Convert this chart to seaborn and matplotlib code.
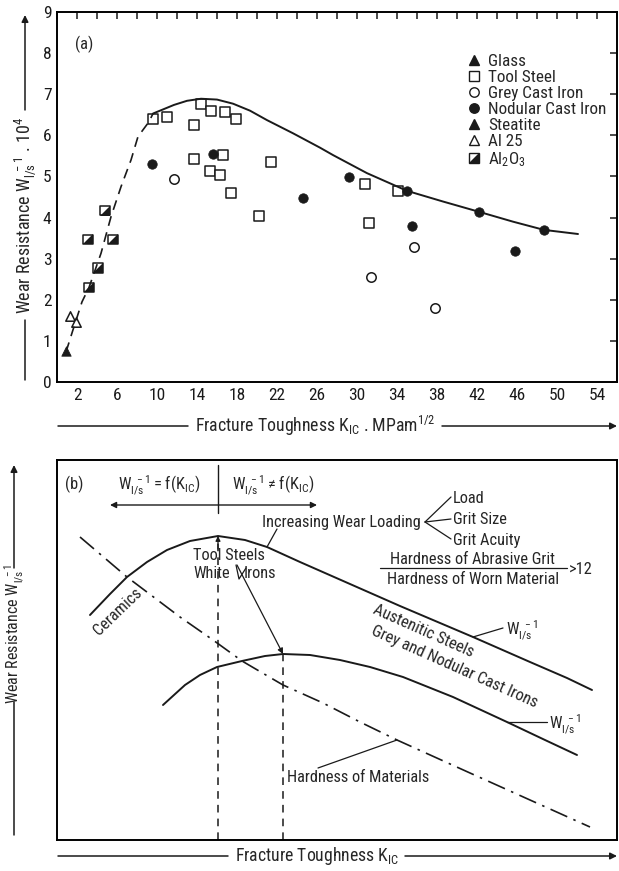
import numpy as np
import pandas as pd
import matplotlib
matplotlib.use('Agg')
import matplotlib.pyplot as plt
import seaborn as sns
from matplotlib.lines import Line2D
from matplotlib.legend_handler import HandlerTuple

# ---- (a) measured points: K_IC [MPa m^1/2] vs wear resistance [x 10^4]
glass_k = [0.9]
glass_w = [0.75]
al25_k = [1.3, 1.9]
al25_w = [1.6, 1.47]
al2o3_k = [3.2, 4.1, 3.1, 5.6, 4.8]
al2o3_w = [2.3, 2.77, 3.47, 3.47, 4.17]
tool_k = [9.6, 11.0, 13.7, 14.4, 15.4, 16.8, 17.9, 13.7, 15.3, 16.6, 16.3, 17.4,
          20.2, 21.4, 30.8, 34.1, 31.2]
tool_w = [6.4, 6.45, 6.25, 6.77, 6.58, 6.56, 6.4, 5.43, 5.14, 5.52, 5.04, 4.6,
          4.04, 5.36, 4.82, 4.65, 3.87]
nod_k = [9.5, 15.6, 24.6, 29.2, 35.0, 35.5, 42.2, 45.8, 48.7]
nod_w = [5.3, 5.55, 4.47, 4.99, 4.65, 3.8, 4.14, 3.19, 3.70]
grey_k = [11.7, 35.7, 31.4, 37.8]
grey_w = [4.94, 3.29, 2.56, 1.80]

# trend lines of (a)
dash_k = [0.9, 1.6, 2.5, 3.2, 4.4, 5.4, 6.4, 7.4, 8.1, 9.2, 9.6]
dash_w = [0.73, 1.27, 1.95, 2.3, 3.13, 4.02, 4.75, 5.4, 5.97, 6.33, 6.53]
trend_k = [9.6, 11.7, 13.0, 14.4, 16.0, 17.6, 19.3, 21.0, 23.6, 26.3, 27.6, 31.0,
           35.0, 38.6, 42.2, 45.6, 48.7, 52.1]
trend_w = [6.53, 6.74, 6.84, 6.89, 6.87, 6.77, 6.60, 6.37, 6.05, 5.70, 5.52, 5.08,
           4.65, 4.39, 4.14, 3.90, 3.70, 3.60]

x_ticks = list(range(0, 57, 2))
x_ticklabels = [str(t) if (t - 2) % 4 == 0 else '' for t in x_ticks]
y_ticks = list(range(0, 10))

# ---- (b) schematic curves (arbitrary units)
upper_k = [33, 53, 70, 90, 110, 133, 161, 188, 210, 243, 293, 343, 416, 473, 510, 535]
upper_w = [225, 246, 263, 278, 290, 299, 304, 300, 293, 278, 256, 234, 203, 178, 162, 150]
lower_k = [106, 128, 143, 160, 185, 208, 226, 253, 283, 313, 346, 396, 450, 488, 520]
lower_w = [135, 155, 165, 173, 179, 184, 186, 185, 180, 173, 163, 143, 118, 100, 85]
hard_k = [23, 70, 123, 156, 185, 226, 266, 303, 340, 413, 473, 533]
hard_w = [303, 263, 223, 200, 179, 155, 137, 118, 100, 67, 40, 13]
peak1_k, peak1_w = 161, 304
peak2_k, peak2_w = 226, 186

sns.set_theme(style='white')
plt.rcParams['font.family'] = ['Liberation Sans Narrow', 'DejaVu Sans Condensed',
                               'Roboto Condensed', 'Liberation Sans', 'DejaVu Sans']
plt.rcParams['mathtext.default'] = 'regular'
plt.rcParams['axes.edgecolor'] = 'black'
plt.rcParams['axes.linewidth'] = 1.4

W, H = 619, 871
fig = plt.figure(figsize=(W / 100, H / 100), dpi=100)
ax_a = fig.add_axes([57 / W, 1 - 382 / H, 560 / W, 370 / H])
ax_b = fig.add_axes([57 / W, 1 - 840 / H, 560 / W, 380 / H])

# ---------------- panel (a)
ax = ax_a
sns.lineplot(x=dash_k, y=dash_w, sort=False, estimator=None, color='k', lw=1.2,
             linestyle=(0, (6, 4)), ax=ax)
sns.lineplot(x=trend_k, y=trend_w, sort=False, estimator=None, color='k', lw=1.4, ax=ax)

ms = 46
sns.scatterplot(x=glass_k, y=glass_w, marker='^', s=ms, color='k', edgecolor='k', ax=ax)
sns.scatterplot(x=al25_k, y=al25_w, marker='^', s=ms, facecolor='white', edgecolor='k',
                linewidth=1.1, ax=ax)
half = [(-1, -1), (1, -1), (1, 1)]
sns.scatterplot(x=al2o3_k, y=al2o3_w, marker=half, s=ms, color='k', linewidth=0, ax=ax)
sns.scatterplot(x=al2o3_k, y=al2o3_w, marker='s', s=ms, facecolor='none', edgecolor='k',
                linewidth=1.1, ax=ax)
sns.scatterplot(x=tool_k, y=tool_w, marker='s', s=ms, facecolor='white', edgecolor='k',
                linewidth=1.1, ax=ax)
sns.scatterplot(x=grey_k, y=grey_w, marker='o', s=ms, facecolor='white', edgecolor='k',
                linewidth=1.1, ax=ax)
sns.scatterplot(x=nod_k, y=nod_w, marker='o', s=ms, color='k', edgecolor='k', ax=ax)

ax.set_xlim(0, 56)
ax.set_ylim(0, 9)
ax.set_xticks(x_ticks)
ax.set_xticklabels(x_ticklabels)
ax.set_yticks(y_ticks)
ax.tick_params(axis='both', direction='in', length=5, width=1.1, labelsize=12.5,
               colors='k', top=True, right=True, pad=4)
ax.text(0.033, 0.9, '(a)', transform=ax.transAxes, fontsize=12)

mk = dict(color='k', linestyle='none', markersize=6.8)
handles = [
    Line2D([], [], marker='^', markerfacecolor='k', **mk),
    Line2D([], [], marker='s', markerfacecolor='white', **mk),
    Line2D([], [], marker='o', markerfacecolor='white', **mk),
    Line2D([], [], marker='o', markerfacecolor='k', **mk),
    Line2D([], [], marker='^', markerfacecolor='k', **mk),
    Line2D([], [], marker='^', markerfacecolor='white', **mk),
    (Line2D([], [], marker=half, markerfacecolor='k', markeredgewidth=0, **mk),
     Line2D([], [], marker='s', markerfacecolor='none', **mk)),
]
labels = ['Glass', 'Tool Steel', 'Grey Cast Iron', 'Nodular Cast Iron', 'Steatite',
          'Al 25', 'Al$_2$O$_3$']
ax.legend(handles, labels, loc='upper left', bbox_to_anchor=(0.733, 0.887),
          frameon=False, fontsize=12.3, handlelength=0.8, handletextpad=0.4,
          labelspacing=0.06, borderpad=0, borderaxespad=0,
          handler_map={tuple: HandlerTuple(ndivide=1)})

# ---------------- panel (b)
ax = ax_b
sns.lineplot(x=upper_k, y=upper_w, sort=False, estimator=None, color='k', lw=1.4, ax=ax)
sns.lineplot(x=lower_k, y=lower_w, sort=False, estimator=None, color='k', lw=1.4, ax=ax)
sns.lineplot(x=hard_k, y=hard_w, sort=False, estimator=None, color='k', lw=1.2,
             linestyle=(0, (11, 4, 1.5, 4)), ax=ax)
ax.plot([peak1_k, peak1_k], [0, peak1_w], color='k', lw=1.1, ls=(0, (5, 4)))
ax.plot([peak2_k, peak2_k], [0, peak2_w], color='k', lw=1.1, ls=(0, (5, 4)))
ax.plot([peak1_k, peak1_k], [327, 375], color='k', lw=1.0)
ax.set_xlim(0, 560)
ax.set_ylim(0, 380)
ax.set_xticks([])
ax.set_yticks([])

fs = 11.8
ax.text(8, 356, '(b)', fontsize=fs, va='center')
ax.text(102, 355, r'$W_{l/s}^{\ -1} = f(K_{IC})$', fontsize=fs, ha='center', va='center')
ax.text(216, 355, r'$W_{l/s}^{\ -1} \neq f(K_{IC})$', fontsize=fs, ha='center', va='center')
ax.annotate('', xy=(53, 335), xytext=(260, 335),
            arrowprops=dict(arrowstyle='<|-|>', color='k', lw=1.0, mutation_scale=9,
                            shrinkA=0, shrinkB=0))
ax.text(284, 318, 'Increasing Wear Loading', fontsize=fs, ha='center', va='center')
for yy, lab in zip([342, 320, 300], ['Load', 'Grit Size', 'Grit Acuity']):
    ax.text(396, yy, lab, fontsize=fs, va='center')
    ax.plot([368, 394], [318, yy + 1], color='k', lw=0.9)
ax.text(416, 281, 'Hardness of Abrasive Grit', fontsize=fs, ha='center', va='center')
ax.plot([323, 510], [272, 272], color='k', lw=0.9)
ax.text(416, 261, 'Hardness of Worn Material', fontsize=fs, ha='center', va='center')
ax.text(512, 271, '>12', fontsize=fs, va='center')
ax.plot([210, 220], [293, 311], color='k', lw=0.9)

ax.text(136, 285, 'Tool Steels', fontsize=fs, va='center')
ax.text(136, 266, 'White', fontsize=fs, va='center')
ax.text(187, 266, 'Irons', fontsize=fs, va='center')
ax.plot([179, 182, 189], [275, 261, 272], color='k', lw=0.9)
ax.annotate('', xy=(peak2_k, peak2_w), xytext=(180, 275),
            arrowprops=dict(arrowstyle='-|>', color='k', lw=0.9, mutation_scale=8,
                            shrinkA=0, shrinkB=0))
ax.annotate('', xy=(peak1_k, peak1_w), xytext=(peak1_k, 291),
            arrowprops=dict(arrowstyle='-|>', color='k', lw=0.9, mutation_scale=7,
                            shrinkA=0, shrinkB=0))

ax.text(61, 228, 'Ceramics', fontsize=fs, rotation=44, rotation_mode='anchor',
        ha='center', va='center')
ax.text(366, 209, 'Austenitic Steels', fontsize=fs, rotation=-24, rotation_mode='anchor',
        ha='center', va='center')
ax.text(397, 173, 'Grey and Nodular Cast Irons', fontsize=fs, rotation=-24,
        rotation_mode='anchor', ha='center', va='center')

ax.plot([416, 446], [203, 212], color='k', lw=0.9)
ax.text(449, 210, r'$W_{l/s}^{\ -1}$', fontsize=fs, va='center')
ax.plot([450, 490], [118, 118], color='k', lw=0.9)
ax.text(492, 116, r'$W_{l/s}^{\ -1}$', fontsize=fs, va='center')
ax.plot([261, 340], [72, 100], color='k', lw=0.9)
ax.text(230, 63, 'Hardness of Materials', fontsize=fs, va='center')


# ---------------- axis titles with arrows (image pixel positions, y from top)
def fig_line(x0, y0, x1, y1, arrow=False):
    ax_a.annotate('', xy=(x1, H - y1), xytext=(x0, H - y0),
                  xycoords='figure pixels', textcoords='figure pixels',
                  arrowprops=dict(arrowstyle='-|>' if arrow else '-', color='k', lw=1.1,
                                  mutation_scale=10, shrinkA=0, shrinkB=0))


fig.text(315 / W, 1 - 426 / H, r'Fracture Toughness $K_{IC}$ . MPam$^{1/2}$', fontsize=12.8,
         ha='center', va='center')
fig_line(58, 426, 188, 426)
fig_line(442, 426, 617, 426, arrow=True)

fig.text(25 / W, 1 - 215 / H, r'Wear Resistance $W_{l/s}^{\ -1}$ . 10$^4$', fontsize=13,
         rotation=90, ha='center', va='center')
fig_line(25, 110, 25, 15, arrow=True)
fig_line(25, 320, 25, 380)

fig.text(317 / W, 1 - 856 / H, r'Fracture Toughness $K_{IC}$', fontsize=12.7,
         ha='center', va='center')
fig_line(58, 856, 228, 856)
fig_line(405, 856, 617, 856, arrow=True)

fig.text(14 / W, 1 - 634 / H, r'Wear Resistance $W_{l/s}^{\ -1}$', fontsize=11.5,
         rotation=90, ha='center', va='center')
fig_line(14, 568, 14, 465, arrow=True)
fig_line(14, 702, 14, 835)

fig.savefig('out.png', dpi=100)
